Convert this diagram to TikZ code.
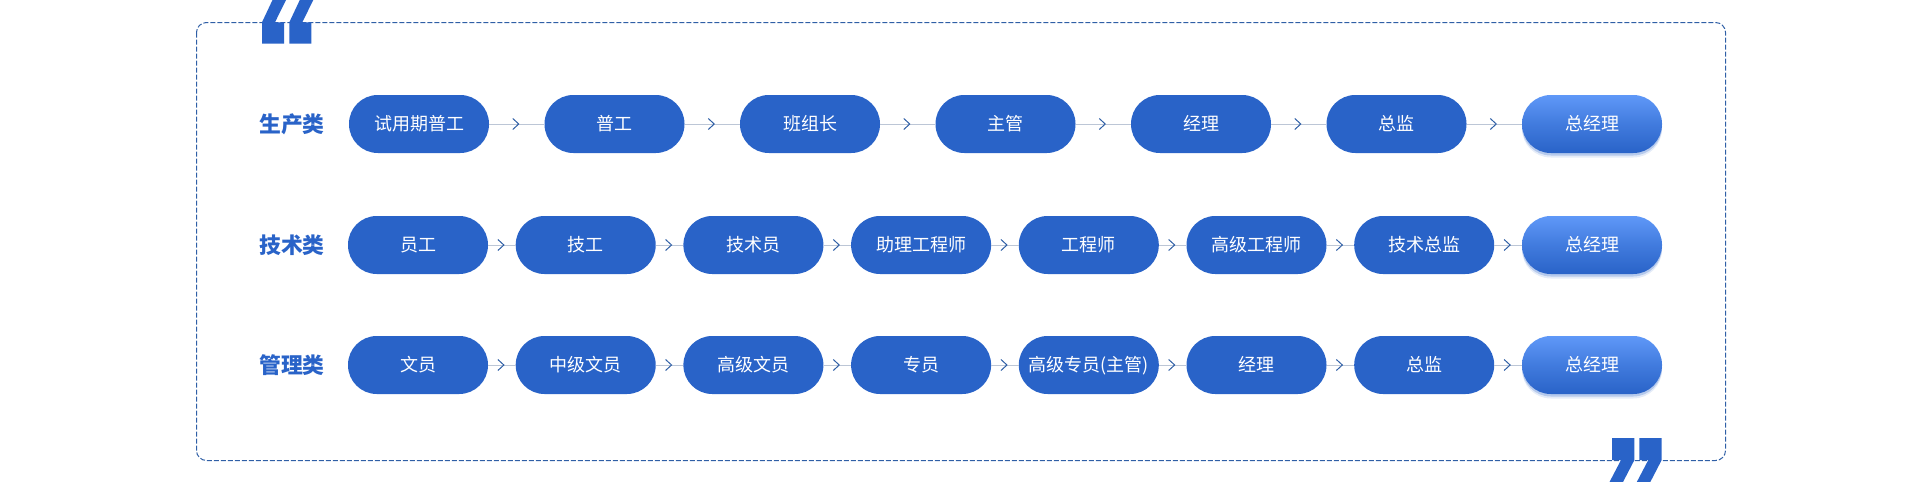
\documentclass[tikz,border=0pt]{standalone}
\usepackage{fontspec}
\setmainfont{Noto Sans CJK SC}
\usetikzlibrary{shadows}
\definecolor{mainblue}{HTML}{2963C8}
\definecolor{topblue}{HTML}{5F98F8}
\definecolor{framecolor}{HTML}{2F5FA6}
\definecolor{linkcolor}{HTML}{BCC6D6}
\tikzset{
	jobbox/.style={fill=mainblue, text=white, rounded corners=28.8pt, minimum width=140pt, minimum height=58pt, inner sep=0pt, text height=15.8pt, text depth=2.2pt, font=\fontsize{18}{20}\selectfont},
	bossbox/.style={jobbox, fill=none, top color=topblue, bottom color=mainblue, middle color=mainblue!55!topblue, drop shadow={shadow xshift=0pt, shadow yshift=-4.5pt, opacity=.12, fill=mainblue}, drop shadow={shadow xshift=0pt, shadow yshift=-2.5pt, opacity=.25, fill=mainblue}},
	classlabel/.style={text=mainblue, inner sep=0pt, text height=19.2pt, text depth=2.6pt, font=\fontsize{21.8}{24}\selectfont\bfseries},
	joblink/.style={draw=linkcolor, line width=1pt},
	chevron/.pic={\draw[framecolor, line width=1pt] (-4,-5.5) -- (2,0) -- (-4,5.5);},
	quotemark/.style={fill=mainblue}
}
\begin{document}
\begin{tikzpicture}[x=1pt, y=-1pt]
	\useasboundingbox (0,0) rectangle (1920,482);
	% Khung nét đứt
	\draw[framecolor, line width=1pt, dash pattern=on 5pt off 2pt, rounded corners=10pt] (196.5,22.5) rectangle (1725.5,460.5);
	
	% Dấu ngoặc kép trên
	\foreach \dx in {0,27.3}{
		\fill[quotemark, xshift=\dx pt] (262,43.7) -- (284,43.7) -- (284,22.3) -- (275,22.3) -- (286,0) -- (272.5,0) -- (262,22.3) -- cycle;
	}
	% Dấu ngoặc kép dưới
	\foreach \dx in {0,27.3}{
		\fill[quotemark, xshift=\dx pt] (1634.4,438) -- (1612,438) -- (1612,460) -- (1621,460) -- (1609.5,482) -- (1623,482) -- (1634.4,460) -- cycle;
	}
	
	% Nhãn các hàng
	\node[classlabel] (labelA) at (292,124) {生产类};
	\node[classlabel] (labelB) at (292,245.5) {技术类};
	\node[classlabel] (labelC) at (292,365) {管理类};
	
	% Hàng 1
	\foreach \txt [count=\i] in {试用期普工,普工,班组长,主管,经理,总监}{
		\node[jobbox] (a\i) at ({419+(\i-1)*195.5},124) {\txt};
	}
	\node[bossbox] (a7) at (1592,124) {总经理};
	
	% Hàng 2
	\foreach \txt [count=\i] in {员工,技工,技术员,助理工程师,工程师,高级工程师,技术总监}{
		\node[jobbox] (b\i) at ({418+(\i-1)*167.7},245) {\txt};
	}
	\node[bossbox] (b8) at (1592,245) {总经理};
	
	% Hàng 3
	\foreach \txt [count=\i] in {文员,中级文员,高级文员,专员,高级专员(主管),经理,总监}{
		\node[jobbox] (c\i) at ({418+(\i-1)*167.7},365) {\txt};
	}
	\node[bossbox] (c8) at (1592,365) {总经理};
	
	% Các đường nối và mũi tên
	\foreach \r/\last in {a/6,b/7,c/7}{
		\foreach \i in {1,...,\last}{
			\pgfmathtruncatemacro{\nxt}{\i+1}
			\draw[joblink] (\r\i) -- (\r\nxt) pic[midway] {chevron};
		}
	}
\end{tikzpicture}
\end{document}
